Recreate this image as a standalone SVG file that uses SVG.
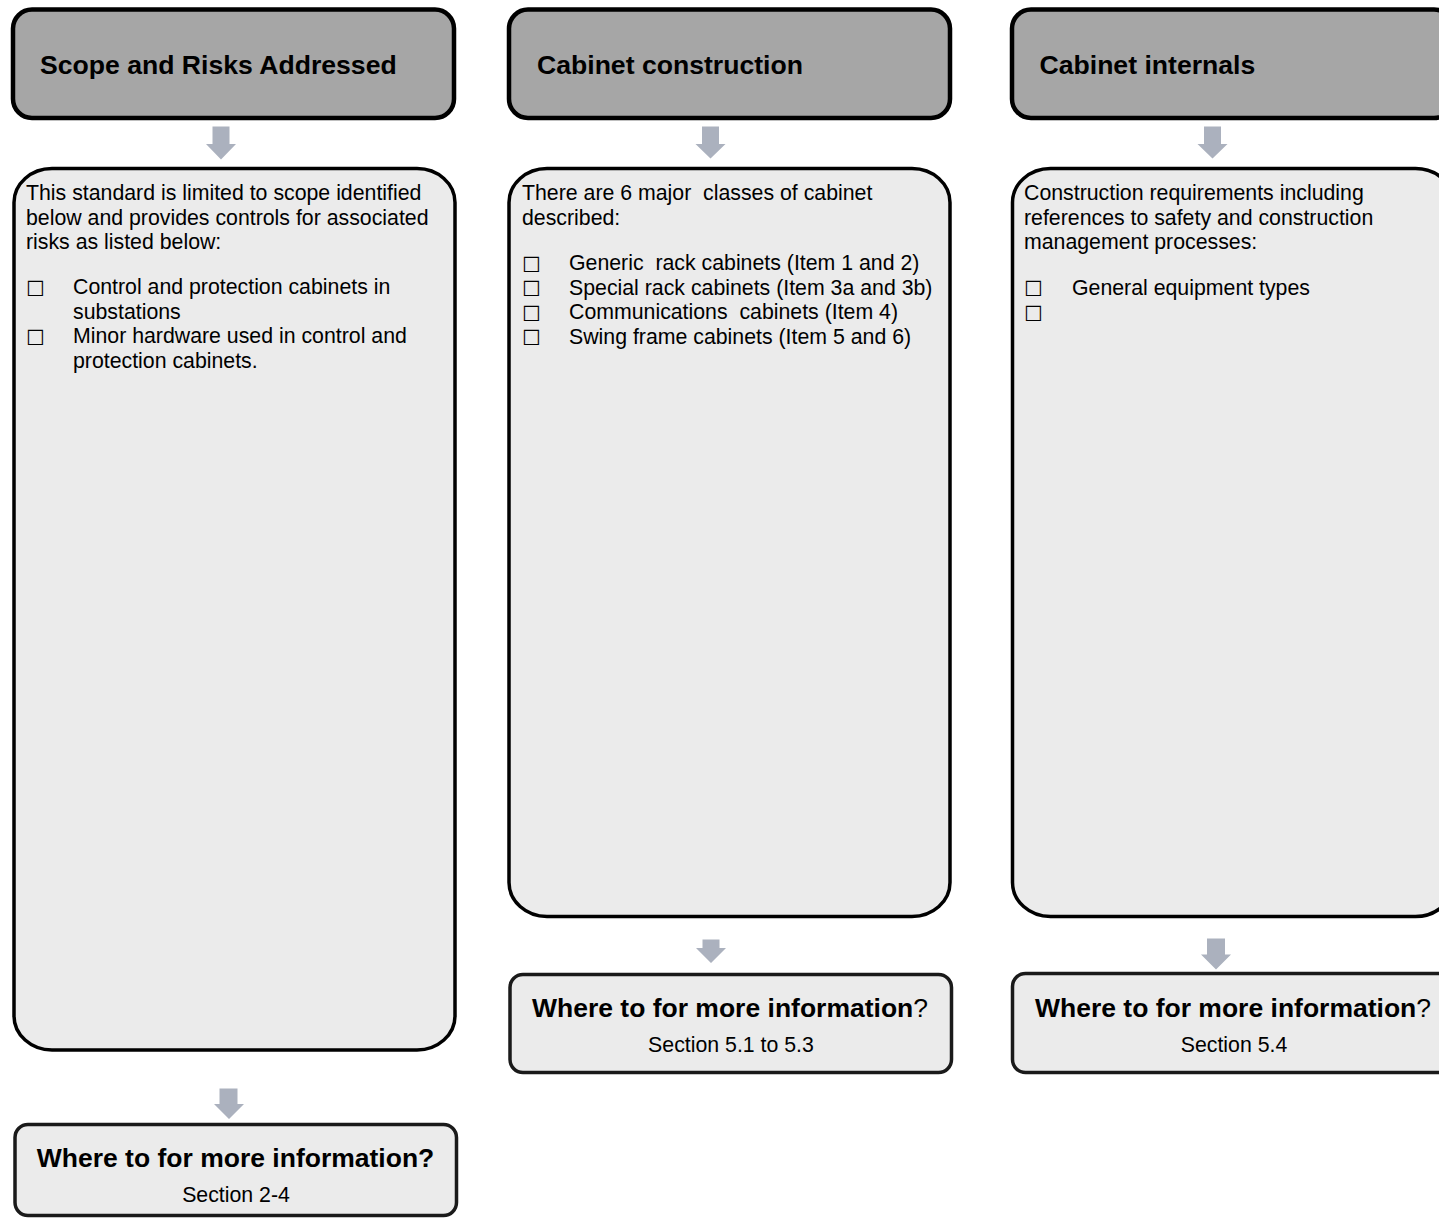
<svg xmlns="http://www.w3.org/2000/svg" width="1439" height="1218" viewBox="0 0 1439 1218">
  <defs>
    <style>
      .hdr { fill: #a6a6a6; stroke: #000; stroke-width: 4.5; }
      .cnt { fill: #ebebeb; stroke: #000; stroke-width: 3.5; }
      .ftr { fill: #ebebeb; stroke: #1a1a1a; stroke-width: 3.5; }
      .arr { fill: #abb1be; stroke: none; }
      text { font-family: "Liberation Sans", Arial, sans-serif; fill: #000; white-space: pre; }
      .ht { font-size: 26.6px; font-weight: bold; }
      .bt { font-size: 21.3px; }
      .bx { font-family: "DejaVu Sans", sans-serif; font-size: 21px; }
      .ft { font-size: 26.5px; font-weight: bold; text-anchor: middle; }
      .fs { font-size: 21.3px; text-anchor: middle; }
    </style>
  </defs>
  <rect width="1439" height="1218" fill="#ffffff"/>

  <g id="connectors">
    <path class="arr" d="M212.5,126.5 H229.5 V144 H236 L221,159.5 L206,144 H212.5 Z"/>
    <path class="arr" d="M702,126.5 H719 V144 H725.5 L710.5,158.5 L695.5,144 H702 Z"/>
    <path class="arr" d="M1204,126.5 H1221 V144 H1227.5 L1212.5,158.5 L1197.5,144 H1204 Z"/>
    <path class="arr" d="M219.5,1088.5 H237.5 V1104 H244 L229,1119 L214,1104 H219.5 Z"/>
    <path class="arr" d="M702.5,939.5 H719.5 V948 H726 L711,963 L696,948 H702.5 Z"/>
    <path class="arr" d="M1207,938.5 H1225 V954.5 H1231 L1216,969.5 L1201,954.5 H1207 Z"/>
  </g>

  <g id="header-scope">
    <rect class="hdr" x="13" y="9.5" width="441" height="108.5" rx="19" ry="19"/>
    <text class="ht" x="40" y="74">Scope and Risks Addressed</text>
  </g>
  <g id="header-construction">
    <rect class="hdr" x="509" y="9.5" width="441" height="108.5" rx="19" ry="19"/>
    <text class="ht" x="537" y="74">Cabinet construction</text>
  </g>
  <g id="header-internals">
    <rect class="hdr" x="1012" y="9.5" width="441" height="108.5" rx="19" ry="19"/>
    <text class="ht" x="1039.5" y="74">Cabinet internals</text>
  </g>

  <g id="content-scope">
    <rect class="cnt" x="14" y="168.5" width="441" height="881.5" rx="38" ry="34"/>
    <text class="bt" x="26" y="200">This standard is limited to scope identified</text>
    <text class="bt" x="26" y="224.5">below and provides controls for associated</text>
    <text class="bt" x="26" y="249">risks as listed below:</text>
    <text class="bx" x="26" y="295.5">☐</text>
    <text class="bt" x="73" y="294">Control and protection cabinets in</text>
    <text class="bt" x="73" y="318.5">substations</text>
    <text class="bx" x="26" y="344.5">☐</text>
    <text class="bt" x="73" y="343">Minor hardware used in control and</text>
    <text class="bt" x="73" y="367.5">protection cabinets.</text>
  </g>

  <g id="content-construction">
    <rect class="cnt" x="509" y="168.5" width="441" height="748" rx="38" ry="34"/>
    <text class="bt" x="522" y="200">There are 6 major  classes of cabinet</text>
    <text class="bt" x="522" y="224.5">described:</text>
    <text class="bx" x="522" y="271.5">☐</text>
    <text class="bt" x="569" y="270">Generic  rack cabinets (Item 1 and 2)</text>
    <text class="bx" x="522" y="296">☐</text>
    <text class="bt" x="569" y="294.5">Special rack cabinets (Item 3a and 3b)</text>
    <text class="bx" x="522" y="320.5">☐</text>
    <text class="bt" x="569" y="319">Communications  cabinets (Item 4)</text>
    <text class="bx" x="522" y="345">☐</text>
    <text class="bt" x="569" y="343.5">Swing frame cabinets (Item 5 and 6)</text>
  </g>

  <g id="content-internals">
    <rect class="cnt" x="1012.5" y="168.5" width="441" height="748" rx="38" ry="34"/>
    <text class="bt" x="1024" y="200">Construction requirements including</text>
    <text class="bt" x="1024" y="224.5">references to safety and construction</text>
    <text class="bt" x="1024" y="249">management processes:</text>
    <text class="bx" x="1024" y="296">☐</text>
    <text class="bt" x="1072" y="294.5">General equipment types</text>
    <text class="bx" x="1024" y="320.5">☐</text>
  </g>

  <g id="footer-scope">
    <rect class="ftr" x="15" y="1124.5" width="441.5" height="91" rx="13" ry="13"/>
    <text class="ft" x="235.5" y="1167">Where to for more information?</text>
    <text class="fs" x="236" y="1202">Section 2-4</text>
  </g>
  <g id="footer-construction">
    <rect class="ftr" x="510" y="974.5" width="441.5" height="98" rx="13" ry="13"/>
    <text class="ft" x="730" y="1016.5">Where to for more information<tspan font-weight="normal">?</tspan></text>
    <text class="fs" x="731" y="1051.5">Section 5.1 to 5.3</text>
  </g>
  <g id="footer-internals">
    <rect class="ftr" x="1012.5" y="973.5" width="441" height="99" rx="13" ry="13"/>
    <text class="ft" x="1233" y="1016.5">Where to for more information<tspan font-weight="normal">?</tspan></text>
    <text class="fs" x="1234" y="1051.5">Section 5.4</text>
  </g>
</svg>
